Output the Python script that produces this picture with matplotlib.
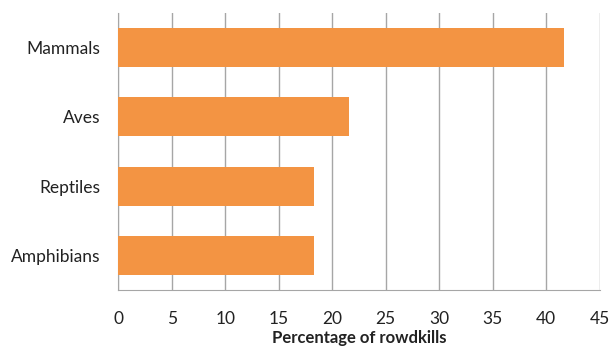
import numpy as np
import matplotlib.pyplot as plt

plt.rcParams['font.family'] = ['Lato', 'DejaVu Sans']

categories = ["Mammals", "Aves", "Reptiles", "Amphibians"]
values = [41.7, 21.6, 18.3, 18.3]
xticks = [0, 5, 10, 15, 20, 25, 30, 35, 40, 45]

bar_color = "#F39443"
grid_color = "#A6A6A6"

fig = plt.figure(figsize=(6.12, 3.5), dpi=100)
ax = fig.add_axes([0.193, 0.171, 0.787, 0.792])

y = np.arange(len(categories))[::-1]
ax.barh(y, values, height=0.56, color=bar_color, zorder=3)

ax.set_xlim(0, 45)
ax.set_ylim(-0.5, len(categories) - 0.5)
ax.set_xticks(xticks)
ax.set_yticks(y)
ax.set_yticklabels(categories)
ax.xaxis.grid(True, color=grid_color, linewidth=1)
ax.tick_params(axis='both', length=0, labelsize=12.5, colors="#222222")
ax.tick_params(axis='x', pad=15)
ax.tick_params(axis='y', pad=13)

for s in ["top", "right"]:
    ax.spines[s].set_visible(False)
for s in ["left", "bottom"]:
    ax.spines[s].set_color(grid_color)

ax.set_xlabel("Percentage of rowdkills", fontsize=12, fontweight='bold',
              color="#222222", labelpad=2)

fig.savefig("out.png", dpi=100)
